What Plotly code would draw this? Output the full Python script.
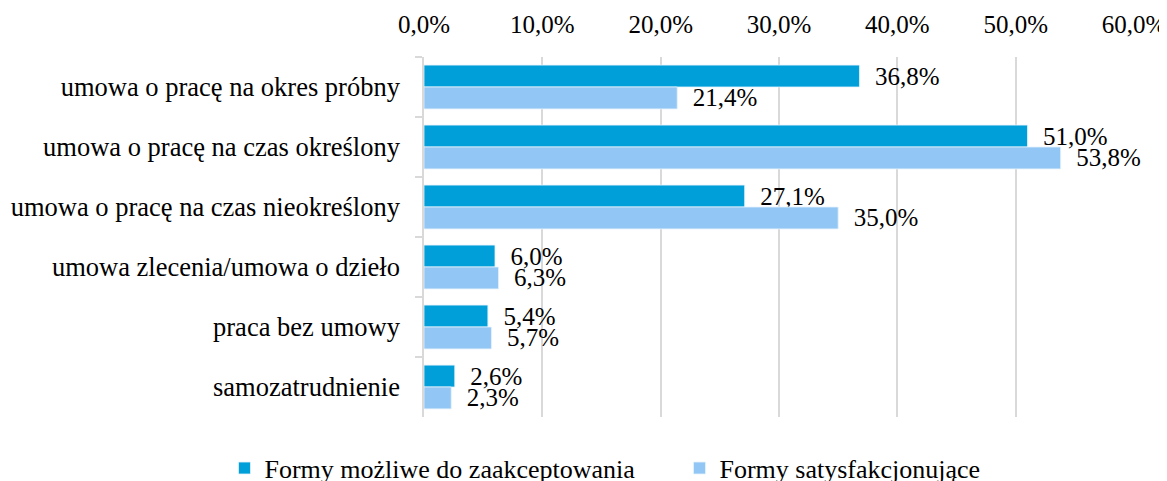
import plotly.graph_objects as go

categories = [
    "umowa o pracę na okres próbny",
    "umowa o pracę na czas określony",
    "umowa o pracę na czas nieokreślony",
    "umowa zlecenia/umowa o dzieło",
    "praca bez umowy",
    "samozatrudnienie",
]
series_names = ["Formy możliwe do zaakceptowania", "Formy satysfakcjonujące"]
acceptable = [36.8, 51.0, 27.1, 6.0, 5.4, 2.6]
satisfying = [21.4, 53.8, 35.0, 6.3, 5.7, 2.3]
tick_values = [0, 10, 20, 30, 40, 50, 60]
tick_labels = ["0,0%", "10,0%", "20,0%", "30,0%", "40,0%", "50,0%", "60,0%"]

colors = ["#009FD9", "#92C6F5"]
FONT = "'Liberation Serif', 'Times New Roman', Times, serif"


def fmt(v):
    return "  " + f"{v:.1f}".replace(".", ",") + "%"


fig = go.Figure()
for name, vals, col in zip(series_names, [acceptable, satisfying], colors):
    fig.add_trace(go.Bar(
        y=categories, x=vals, name=name, orientation="h",
        marker=dict(color=col, line=dict(color="#E6F2FB", width=0.8)),
        text=[fmt(v) for v in vals], textposition="outside",
        textfont=dict(family=FONT, size=25, color="#000000"),
        constraintext="none", cliponaxis=False,
    ))

# page body adds an 8px offset; figure is sized to fit inside the 1167x481 window
fig.update_layout(
    width=1159, height=473,
    margin=dict(l=416, r=33, t=49, b=64, autoexpand=False),
    paper_bgcolor="white", plot_bgcolor="white",
    barmode="group", bargap=0.27, bargroupgap=0,
    font=dict(family=FONT, size=25, color="#000000"),
    showlegend=True,
    legend=dict(orientation="h", x=-0.281, xanchor="left",
                y=-0.142, yanchor="middle",
                font=dict(family=FONT, size=26, color="#000000"),
                entrywidth=410, itemwidth=30),
    xaxis=dict(side="top", range=[0, 60], tickvals=tick_values, ticktext=tick_labels,
               showgrid=True, gridcolor="#D9D9D9", gridwidth=1.5, zeroline=False,
               showline=False, ticks="", ticklabelstandoff=18, automargin=False,
               tickfont=dict(family=FONT, size=25, color="#000000")),
    yaxis=dict(autorange="reversed", showline=True, linecolor="#D9D9D9", linewidth=1.5,
               ticks="outside", tickson="boundaries", ticklen=7, tickcolor="#D9D9D9",
               tickwidth=1.5, ticklabelstandoff=17, automargin=False,
               tickfont=dict(family=FONT, size=26.5, color="#000000")),
)

fig.write_html("out.html")
